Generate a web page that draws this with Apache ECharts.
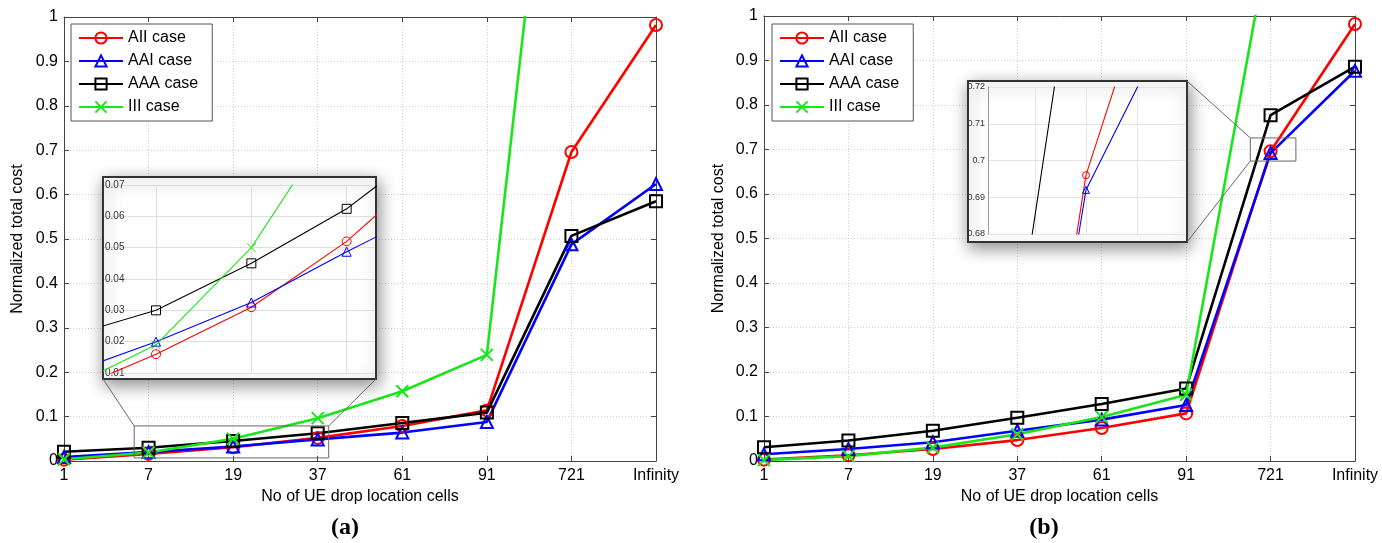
<!DOCTYPE html>
<html><head><meta charset="utf-8">
<script src="https://cdn.jsdelivr.net/npm/echarts@6/dist/echarts.min.js"></script>
<style>html,body{margin:0;padding:0;background:#fff}#c{width:1382px;height:543px}</style>
</head><body><div id="c"></div>
<script>
// ---------- data ----------
const categories = ['1', '7', '19', '37', '61', '91', '721', 'Infinity'];
const seriesNames = ['AII case', 'AAI case', 'AAA case', 'III case'];

// panel (a)
const aii_a = [0.003, 0.016, 0.031, 0.052, 0.079, 0.114, 0.696, 0.982];
const aai_a = [0.009, 0.020, 0.0325, 0.0487, 0.064, 0.088, 0.488, 0.624];
const aaa_a = [0.021, 0.030, 0.045, 0.0624, 0.0856, 0.109, 0.507, 0.585];
const iii_a = [0.004, 0.019, 0.050, 0.0965, 0.157, 0.239, 1.93, null];

// panel (b)
const aii_b = [0.003, 0.013, 0.027, 0.047, 0.074, 0.107, 0.696, 0.982];
const aai_b = [0.015, 0.027, 0.042, 0.068, 0.093, 0.126, 0.692, 0.877];
const aaa_b = [0.031, 0.046, 0.068, 0.097, 0.128, 0.163, 0.777, 0.886];
const iii_b = [0.002, 0.011, 0.030, 0.060, 0.099, 0.149, 1.19, null];

// zoom windows (data space: xFrom, xTo (category index), yFrom, yTo)
const zoomRegionA = [0.83, 3.13, 0.007, 0.079];
const insetRangeA = [0.4544, 3.297, 0.01, 0.07];
const zoomRegionB = [5.76, 6.30, 0.674, 0.726];
const insetRangeB = [5.712, 6.291, 0.68, 0.72];

// ---------- style ----------
const FONT = 'Liberation Sans, Arial, Helvetica, sans-serif';
const COLORS = ['#ff0000', '#0000ff', '#000000', '#19e619'];
const SYMBOLS = ['circle', 'triangle', 'rect', 'path://M0,0L10,10M10,0L0,10'];
const AXIS_COLOR = '#444';

const panelA = [aii_a, aai_a, aaa_a, iii_a];
const panelB = [aii_b, aai_b, aaa_b, iii_b];

function toPairs(arr) { return arr.map((v, i) => [i, v]); }

function mkSeries(k, data, xi, yi, kind) {
  const main = kind === 'main';
  const size = main ? 12 : (kind === 'insetA' ? 9 : 7);
  return {
    type: 'line', name: seriesNames[k], xAxisIndex: xi, yAxisIndex: yi,
    data: toPairs(data), symbol: SYMBOLS[k], symbolSize: size,
    showSymbol: true, clip: true, z: main ? 2 : 6, animation: false,
    lineStyle: { color: COLORS[k], width: main ? 2.6 : 1.1 },
    itemStyle: { color: 'rgba(0,0,0,0)', borderColor: COLORS[k], borderWidth: main ? 2 : 1 },
    emphasis: { disabled: true }, silent: true
  };
}

function mainX(grid, pos, labels) {
  return {
    type: 'value', gridIndex: grid, position: pos, min: 0, max: 7, interval: 1,
    axisLine: { show: true, onZero: false, lineStyle: { color: AXIS_COLOR, width: 1 } },
    axisTick: { show: true, inside: true, length: 5, lineStyle: { color: AXIS_COLOR } },
    axisLabel: { show: labels, showMinLabel: true, showMaxLabel: true,
      formatter: v => categories[Math.round(v)], fontSize: 16, color: '#000', margin: 7, fontFamily: FONT },
    splitLine: { show: labels, lineStyle: { color: '#d0d0d0', type: [1, 2] } },
    name: labels ? 'No of UE drop location cells' : '', nameLocation: 'middle', nameGap: 27,
    nameTextStyle: { fontSize: 16, color: '#000', fontFamily: FONT }
  };
}
function mainY(grid, pos, labels, gap) {
  return {
    type: 'value', gridIndex: grid, position: pos, min: 0, max: 1, interval: 0.1,
    axisLine: { show: true, onZero: false, lineStyle: { color: AXIS_COLOR, width: 1 } },
    axisTick: { show: true, inside: true, length: 5, lineStyle: { color: AXIS_COLOR } },
    axisLabel: { show: labels, fontSize: 16, color: '#000', margin: 6, fontFamily: FONT,
      formatter: v => String(+v.toFixed(1)) },
    splitLine: { show: labels, lineStyle: { color: '#d0d0d0', type: [1, 2] } },
    name: labels ? 'Normalized total cost' : '', nameLocation: 'middle', nameGap: gap,
    nameTextStyle: { fontSize: 16, color: '#000', fontFamily: FONT }
  };
}

const legendCommon = {
  orient: 'vertical', data: seriesNames, selectedMode: false,
  itemWidth: 44, itemHeight: 14, itemGap: 7, padding: [6, 14, 6, 7],
  borderColor: '#555', borderWidth: 1, backgroundColor: '#fff',
  textStyle: { fontSize: 16, color: '#000', fontFamily: FONT }
};

// layout
const gridMainA = { left: 64, top: 17, width: 592, height: 444 };
const gridMainB = { left: 764, top: 16, width: 591, height: 445 };
const boxA = { x: 103, y: 177, w: 273, h: 202 };
const gridInsetA = { left: 104, top: 185, width: 271, height: 188 };
const boxB = { x: 968, y: 81, w: 219, h: 161 };
const gridInsetB = { left: 988, top: 87, width: 197, height: 147 };

const series = [];
panelA.forEach((d, k) => series.push(mkSeries(k, d, 0, 0, 'main')));
panelB.forEach((d, k) => series.push(mkSeries(k, d, 2, 2, 'main')));
panelA.forEach((d, k) => series.push(mkSeries(k, d, 4, 4, 'insetA')));
panelB.forEach((d, k) => series.push(mkSeries(k, d, 5, 5, 'insetB')));

const option = {
  animation: false,
  backgroundColor: '#fff',
  textStyle: { fontFamily: FONT },
  grid: [
    Object.assign({ containLabel: false }, gridMainA),
    Object.assign({ containLabel: false }, gridMainB),
    Object.assign({ containLabel: false }, gridInsetA),
    Object.assign({ containLabel: false }, gridInsetB)
  ],
  legend: [
    Object.assign({ left: 71, top: 24, z: 8 }, legendCommon),
    Object.assign({ left: 772, top: 24, z: 8 }, legendCommon)
  ],
  xAxis: [
    mainX(0, 'bottom', true), mainX(0, 'top', false),
    mainX(1, 'bottom', true), mainX(1, 'top', false),
    { type: 'value', gridIndex: 2, min: insetRangeA[0], max: insetRangeA[1], z: 5,
      axisLine: { show: false }, axisLabel: { show: false },
      axisTick: { show: false, customValues: [1, 2, 3] },
      splitLine: { show: true, lineStyle: { color: '#dedede', width: 1 } } },
    { type: 'value', gridIndex: 3, min: insetRangeB[0], max: insetRangeB[1], z: 5,
      axisLine: { show: false }, axisLabel: { show: false },
      axisTick: { show: false, customValues: [5.85, 6, 6.15] },
      splitLine: { show: true, lineStyle: { color: '#e4e4e4', width: 1 } } }
  ],
  yAxis: [
    mainY(0, 'left', true, 38), mainY(0, 'right', false, 0),
    mainY(1, 'left', true, 37), mainY(1, 'right', false, 0),
    { type: 'value', gridIndex: 2, min: insetRangeA[2], max: insetRangeA[3], interval: 0.01, z: 5,
      axisLine: { show: false }, axisTick: { show: false },
      axisLabel: { inside: true, margin: 1, fontSize: 10, color: '#333', fontFamily: FONT,
        formatter: v => v.toFixed(2) },
      splitLine: { show: true, lineStyle: { color: '#dedede', width: 1 } } },
    { type: 'value', gridIndex: 3, min: insetRangeB[2], max: insetRangeB[3], interval: 0.01, z: 5,
      axisLine: { show: true, lineStyle: { color: '#999' } }, axisTick: { show: false },
      axisLabel: { margin: 3, fontSize: 9, color: '#333', fontFamily: FONT,
        formatter: v => String(+v.toFixed(2)) },
      splitLine: { show: true, lineStyle: { color: '#e4e4e4', width: 1 } } }
  ],
  series: series
};

const chart = echarts.init(document.getElementById('c'), null, { renderer: 'canvas' });
chart.setOption(option);

// zoom rectangles & connectors, positioned through the axes' own scales
const fA = { xAxisIndex: 0, yAxisIndex: 0 };
const fB = { xAxisIndex: 2, yAxisIndex: 2 };
const ra0 = chart.convertToPixel(fA, [zoomRegionA[0], zoomRegionA[3]]);
const ra1 = chart.convertToPixel(fA, [zoomRegionA[1], zoomRegionA[2]]);
const rb0 = chart.convertToPixel(fB, [zoomRegionB[0], zoomRegionB[3]]);
const rb1 = chart.convertToPixel(fB, [zoomRegionB[1], zoomRegionB[2]]);

const boxStyle = { fill: '#fff', stroke: '#333', lineWidth: 2,
  shadowBlur: 16, shadowColor: 'rgba(0,0,0,0.45)', shadowOffsetX: 2, shadowOffsetY: 5 };
const connStyle = { stroke: '#666', lineWidth: 1 };

chart.setOption({
  graphic: [
    { type: 'rect', z: 3, shape: { x: boxA.x, y: boxA.y, width: boxA.w, height: boxA.h }, style: boxStyle, silent: true },
    { type: 'rect', z: 3, shape: { x: boxB.x, y: boxB.y, width: boxB.w, height: boxB.h }, style: boxStyle, silent: true },
    { type: 'rect', z: 7, shape: { x: ra0[0], y: ra0[1], width: ra1[0] - ra0[0], height: ra1[1] - ra0[1] },
      style: { fill: 'none', stroke: '#666', lineWidth: 1 }, silent: true },
    { type: 'rect', z: 7, shape: { x: rb0[0], y: rb0[1], width: rb1[0] - rb0[0], height: rb1[1] - rb0[1] },
      style: { fill: 'none', stroke: '#666', lineWidth: 1 }, silent: true },
    { type: 'line', z: 7, shape: { x1: boxA.x, y1: boxA.y + boxA.h, x2: ra0[0], y2: ra0[1] }, style: connStyle, silent: true },
    { type: 'line', z: 7, shape: { x1: boxA.x + boxA.w, y1: boxA.y + boxA.h, x2: ra1[0], y2: ra0[1] }, style: connStyle, silent: true },
    { type: 'line', z: 7, shape: { x1: boxB.x + boxB.w, y1: boxB.y, x2: rb0[0], y2: rb0[1] }, style: connStyle, silent: true },
    { type: 'line', z: 7, shape: { x1: boxB.x + boxB.w, y1: boxB.y + boxB.h, x2: rb0[0], y2: rb1[1] }, style: connStyle, silent: true },
    { type: 'text', z: 10, x: 345, y: 528, style: { text: '(a)', font: 'bold 24px "Liberation Serif", "Times New Roman", serif',
      fill: '#000', textAlign: 'center', textVerticalAlign: 'middle' } },
    { type: 'text', z: 10, x: 1044, y: 528, style: { text: '(b)', font: 'bold 24px "Liberation Serif", "Times New Roman", serif',
      fill: '#000', textAlign: 'center', textVerticalAlign: 'middle' } }
  ]
});
</script></body></html>
